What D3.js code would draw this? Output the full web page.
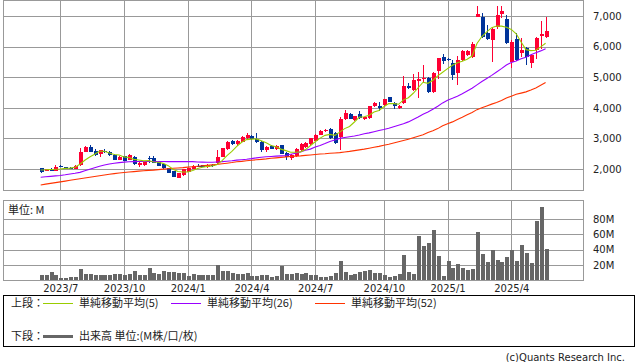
<!DOCTYPE html>
<html>
<head>
<meta charset="UTF-8">
<style>
  body { margin: 0; background: #fff; }
  svg text { font-family: "DejaVu Sans", sans-serif; fill: #222; }
  svg .jp { font-family: "Noto Sans CJK JP", sans-serif; }
</style>
</head>
<body>
<div id="chart"></div>
<script src="https://d3js.org/d3.v7.min.js"></script>
<script>

// weekly candles, 2023/6/5 .. 2025/5/26
var open = [2025,1940,1975,1940,2110,2060,2040,2015,2120,2565,
  2730,2600,2490,2590,2560,2470,2295,2420,2295,2390,
  2130,2130,2370,2370,2230,2170,2020,1935,1720,1820,
  1900,2000,2110,2120,2060,2140,2190,2400,2650,2925,
  2810,2890,3000,3080,2980,2890,2620,2760,2650,2790,
  2530,2350,2420,2620,2710,2820,2920,3110,3270,3300,
  3180,3050,3620,3800,3600,3800,3625,3660,4060,4060,
  4090,4340,4170,3990,4170,4720,4580,4880,4950,4990,
  4530,5200,5670,5600,5470,5130,5560,5730,5650,6980,
  6980,6450,6200,6630,7070,6890,5510,6240,5780,5940,
  5450,5890,6360,6300];
var high = [2040,2000,2020,2140,2140,2080,2060,2120,2690,2740,
  2800,2640,2620,2660,2580,2490,2420,2440,2480,2420,
  2220,2250,2440,2430,2250,2190,2040,1950,1880,2000,
  2040,2120,2170,2140,2150,2160,2620,2700,2900,2960,
  2960,3070,3170,3100,3170,2900,2740,2780,2780,2800,
  2550,2480,2680,2840,2880,3020,3130,3280,3320,3340,
  3200,3700,3930,3820,3740,3880,3700,4070,4200,4200,
  4300,4360,4190,4080,5040,4800,5100,5180,5400,5010,
  5180,5640,5760,5620,5570,5700,5900,5900,6150,7330,
  7090,6710,6600,7330,7330,7030,6200,6430,6270,5980,
  5760,6300,6850,6980];
var low = [1860,1930,1930,1920,2060,2000,2000,2000,2110,2540,
  2540,2420,2380,2520,2440,2280,2280,2260,2280,2140,
  2060,2110,2210,2200,2090,2010,1860,1740,1700,1770,
  1890,1990,2070,2060,2040,2080,2160,2380,2630,2780,
  2760,2880,2980,2960,2860,2560,2560,2640,2630,2480,
  2290,2300,2400,2600,2700,2800,2900,3100,3200,2990,
  2830,2620,3600,3620,3560,3640,3600,3640,4040,3900,
  4070,4180,3960,3960,4140,4630,4540,4310,4850,4490,
  4500,4950,5420,5540,4900,4740,5540,5700,5620,6960,
  6290,6220,5510,6580,6920,6080,5290,5520,5660,5400,
  5290,5580,5910,6280];
var close = [1895,1990,1955,2070,2090,2010,2020,2100,2555,2730,
  2555,2460,2610,2545,2460,2295,2400,2270,2450,2155,
  2205,2240,2345,2210,2100,2020,1880,1750,1860,1990,
  2030,2110,2080,2070,2140,2090,2380,2690,2890,2820,
  2925,3050,3110,2980,2870,2620,2730,2650,2760,2490,
  2380,2460,2650,2820,2860,3000,3110,3250,3290,3000,
  2860,3630,3820,3640,3730,3660,3690,4060,4160,3990,
  4280,4200,4050,4060,4710,4640,4910,4950,4970,4530,
  5150,5620,5540,5560,5070,5560,5870,5870,6090,7070,
  6320,6240,6580,7030,7170,6110,6160,5560,5890,5670,
  5730,6270,6400,6520];

// moving averages as drawn
var ma5 = [1970,1975,1985,1990,2000,2020,2030,2060,2155,2285,
  2390,2480,2580,2580,2525,2475,2460,2395,2375,2315,
  2295,2265,2280,2230,2220,2185,2110,1990,1920,1900,
  1900,1950,2015,2055,2085,2100,2150,2275,2440,2575,
  2740,2875,2960,2975,2985,2925,2860,2770,2725,2650,
  2600,2550,2550,2560,2635,2760,2890,3010,3100,3130,
  3100,3205,3320,3390,3535,3695,3710,3755,3860,3910,
  4035,4140,4135,4115,4260,4330,4475,4655,4835,4800,
  4900,5045,5160,5280,5390,5470,5520,5585,5690,6100,
  6330,6480,6620,6670,6670,6630,6560,6420,6150,5900,
  5870,5880,5990,6110];
var ma26 = [1730,1745,1760,1775,1790,1810,1835,1860,1890,1940,
  1990,2040,2090,2130,2165,2190,2210,2225,2235,2240,
  2245,2245,2245,2245,2245,2245,2240,2240,2240,2240,
  2240,2240,2230,2225,2220,2220,2230,2240,2255,2270,
  2290,2305,2320,2340,2365,2385,2400,2410,2420,2430,
  2440,2480,2515,2560,2610,2650,2720,2770,2830,2900,
  2950,3000,3030,3055,3080,3110,3150,3180,3220,3260,
  3290,3330,3380,3430,3480,3540,3620,3700,3790,3860,
  3950,4050,4160,4250,4310,4380,4460,4550,4640,4750,
  4860,4960,5060,5170,5280,5400,5480,5530,5600,5650,
  5730,5800,5860,5930];
var ma52 = [1480,1505,1530,1555,1580,1605,1630,1655,1680,1705,
  1730,1755,1780,1805,1830,1850,1870,1885,1900,1915,
  1930,1945,1955,1965,1980,1995,2010,2025,2035,2045,
  2060,2075,2090,2105,2120,2135,2150,2170,2190,2210,
  2235,2250,2270,2285,2300,2315,2330,2350,2365,2380,
  2395,2410,2420,2430,2445,2460,2475,2490,2500,2515,
  2525,2535,2555,2575,2600,2625,2650,2680,2710,2740,
  2775,2810,2850,2890,2930,2970,3020,3070,3120,3190,
  3250,3320,3410,3480,3540,3620,3690,3770,3850,3940,
  4000,4060,4120,4170,4240,4320,4380,4440,4480,4520,
  4580,4650,4740,4830];

// volume, millions
var volume = [6.7,6.7,10.7,6.7,3,3,3.6,4,14.7,8,
  8,6.2,6.2,6.2,6.2,7.6,7.6,6.2,7.6,12,
  6.2,7,16,9,7.6,11.6,10.7,10.7,9.8,9,
  5.8,7.6,7,6.2,7,6,20,12,12,9,
  8.4,7.6,9.3,5.8,5.8,6.2,6.7,4.4,4.9,19,
  8.4,8.4,9,7.6,9,6.5,7,4,4,5.3,
  9.3,25,10.6,6.6,8,10.6,12,13,9.3,9.3,
  6.6,4,5.3,8,33,10.6,8,58,45,49,
  66,32,5.3,25,16,21,16,13,14.5,63,
  34,24,40,26,24,30,40,25,46,36,
  22.5,78,96.5,41];

var tickIdx = [4, 17, 30, 43, 56, 70, 83, 96];
var tickLabels = ["2023/7", "2023/10", "2024/1", "2024/4", "2024/7", "2024/10", "2025/1", "2025/4"];
var priceTicks = [2000, 3000, 4000, 5000, 6000, 7000];
var volTicks = [20, 40, 60, 80];

var width = 638, height = 362;
var left = 3, right = 583;

var svg = d3.select("#chart").append("svg")
  .attr("width", width)
  .attr("height", height);

var x = d3.scaleLinear().domain([0, close.length - 1]).range([40.7, 545.6]);
var y = d3.scaleLinear().domain([1314, 7490]).range([190, 1]);
var yv = d3.scaleLinear().domain([0, 104]).range([280, 201]);

function px(v) { return Math.round(v) + 0.5; }

var gridColor = "#999";

// ---- price panel ----
var upper = svg.append("g");

upper.selectAll("line.hg").data(priceTicks).enter().append("line")
  .attr("x1", left).attr("x2", right)
  .attr("y1", d => px(y(d))).attr("y2", d => px(y(d)))
  .attr("stroke", gridColor);
upper.selectAll("line.vg").data(tickIdx).enter().append("line")
  .attr("x1", d => px(x(d))).attr("x2", d => px(x(d)))
  .attr("y1", 0.5).attr("y2", 190.5)
  .attr("stroke", gridColor);
upper.append("rect")
  .attr("x", left + 0.5).attr("y", 0.5)
  .attr("width", right - left).attr("height", 190)
  .attr("fill", "none").attr("stroke", gridColor);

// candles
var upColor = "#ff0033", downColor = "#003399";
var candle = upper.append("g").selectAll("g").data(close).enter().append("g")
  .attr("fill", (d, i) => d >= open[i] ? upColor : downColor)
  .attr("stroke", (d, i) => d >= open[i] ? upColor : downColor);
candle.append("line")
  .attr("x1", (d, i) => px(x(i))).attr("x2", (d, i) => px(x(i)))
  .attr("y1", (d, i) => Math.round(y(high[i])))
  .attr("y2", (d, i) => Math.round(y(low[i])));
candle.append("rect")
  .attr("stroke", "none")
  .attr("x", (d, i) => Math.round(x(i)) - 1)
  .attr("width", 4)
  .attr("y", (d, i) => Math.round(y(Math.max(open[i], d))))
  .attr("height", (d, i) => Math.max(1, Math.round(y(Math.min(open[i], d))) - Math.round(y(Math.max(open[i], d)))));

// moving averages
var line = d3.line().x((d, i) => x(i)).y(d => y(d));
[[ma52, "#ff3300"], [ma26, "#9900ff"], [ma5, "#99cc00"]].forEach(function(s) {
  upper.append("path")
    .datum(s[0])
    .attr("d", line)
    .attr("fill", "none")
    .attr("stroke", s[1])
    .attr("stroke-width", 1.1);
});

// price axis
var yAxis = upper.append("g")
  .attr("transform", "translate(" + right + ",0)")
  .call(d3.axisRight(y).tickValues(priceTicks).tickFormat(d3.format(",")).tickSize(0).tickPadding(10));
yAxis.select(".domain").remove();
yAxis.selectAll("text").attr("font-size", 10).attr("font-family", null).attr("fill", "#222");

// ---- volume panel ----
var lower = svg.append("g");
lower.selectAll("line.hg").data(volTicks).enter().append("line")
  .attr("x1", left).attr("x2", right)
  .attr("y1", d => px(yv(d))).attr("y2", d => px(yv(d)))
  .attr("stroke", gridColor);
lower.selectAll("line.vg").data(tickIdx).enter().append("line")
  .attr("x1", d => px(x(d))).attr("x2", d => px(x(d)))
  .attr("y1", 200.5).attr("y2", 280.5)
  .attr("stroke", gridColor);
lower.append("rect")
  .attr("x", left + 0.5).attr("y", 200.5)
  .attr("width", right - left).attr("height", 80)
  .attr("fill", "none").attr("stroke", gridColor);

lower.append("g").selectAll("rect").data(volume).enter().append("rect")
  .attr("x", (d, i) => Math.round(x(i)) - 1)
  .attr("width", 4)
  .attr("y", d => Math.round(yv(d)))
  .attr("height", d => 280 - Math.round(yv(d)))
  .attr("fill", "#666");

lower.append("text").attr("class", "jp")
  .attr("x", 8).attr("y", 210).attr("dy", "0.35em")
  .attr("font-size", 11)
  .text("単位: M");

var vAxis = lower.append("g")
  .attr("transform", "translate(" + right + ",0)")
  .call(d3.axisRight(yv).tickValues(volTicks).tickFormat(d => d + "M").tickSize(0).tickPadding(10));
vAxis.select(".domain").remove();
vAxis.selectAll("text").attr("font-size", 10).attr("font-family", null).attr("fill", "#222");

var xAxis = svg.append("g")
  .attr("transform", "translate(0,280)")
  .call(d3.axisBottom(x).tickValues(tickIdx).tickFormat((d, i) => tickLabels[i]).tickSize(0).tickPadding(4.5));
xAxis.select(".domain").remove();
xAxis.selectAll("text").attr("font-size", 10).attr("font-family", null).attr("fill", "#222");

// ---- legend ----
var lg = svg.append("g");
lg.append("rect")
  .attr("x", 3.5).attr("y", 295.5)
  .attr("width", 631).attr("height", 51)
  .attr("fill", "none").attr("stroke", "#000");

var legendRows = [
  {label: "上段：", y: 303, items: [
    {x: 43, color: "#99cc00", w: 1, text: "単純移動平均(5)"},
    {x: 171, color: "#9900ff", w: 1, text: "単純移動平均(26)"},
    {x: 315, color: "#ff3300", w: 1, text: "単純移動平均(52)"}]},
  {label: "下段：", y: 336, items: [
    {x: 43, color: "#666", w: 3, text: "出来高 単位:(M株/口/枚)"}]}
];
legendRows.forEach(function(r) {
  lg.append("text").attr("class", "jp")
    .attr("x", 11).attr("y", r.y).attr("dy", "0.35em")
    .attr("font-size", 11).text(r.label);
  r.items.forEach(function(it) {
    lg.append("line")
      .attr("x1", it.x).attr("x2", it.x + 30)
      .attr("y1", r.y + 0.5).attr("y2", r.y + 0.5)
      .attr("stroke", it.color).attr("stroke-width", it.w);
    lg.append("text").attr("class", "jp")
      .attr("x", it.x + 36).attr("y", r.y).attr("dy", "0.35em")
      .attr("font-size", 11).text(it.text);
  });
});

svg.append("text")
  .attr("x", 625).attr("y", 357).attr("dy", "0.35em")
  .attr("text-anchor", "end")
  .attr("font-size", 10)
  .attr("fill", "#444")
  .text("(c)Quants Research Inc.");

</script>
</body>
</html>
